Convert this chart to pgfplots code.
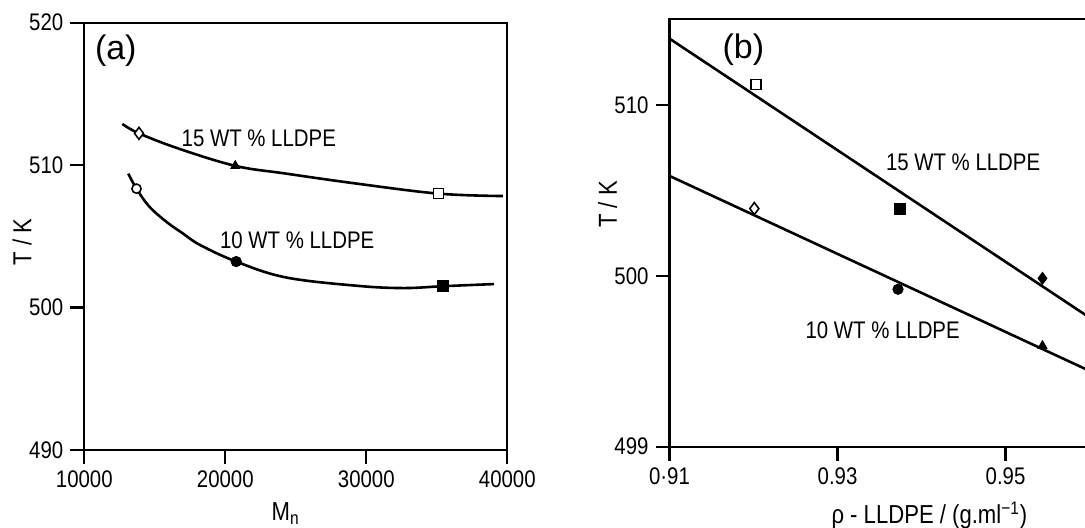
\documentclass[border=0pt]{standalone}
\usepackage{fontspec}
\setmainfont{Liberation Sans}[FakeStretch=0.85]
\newfontfamily\arialfont{Liberation Sans}
\usepackage{pgfplots}
\pgfplotsset{compat=1.18}
\begin{document}
\begin{tikzpicture}
\pgfplotsset{
  every axis/.append style={
    scale only axis, anchor=south west,
    axis line style={line width=1.1pt},
    major tick length=7pt, tick align=outside,
    xtick pos=left, ytick pos=left,
    scaled x ticks=false, scaled y ticks=false,
    every tick/.style={black, line width=1.1pt},
    tick label style={font=\fontsize{12}{14}\selectfont},
    clip=false,
  },
}
% ---------------- panel (a) ----------------
\begin{axis}[at={(42.15pt,38.5pt)}, width=211.5pt, height=213.65pt,
  xmin=10000, xmax=40000, ymin=490, ymax=520,
  xtick={10000,20000,30000,40000}, xticklabels={10000,20000,30000,40000},
  ytick={490,500,510,520}, yticklabels={490,500,510,520}]
\addplot[line width=1.3pt, smooth, tension=0.6] coordinates {
  (12695,512.89) (13879,512.23) (16667,511.17) (20709,509.95)
  (24276,509.41) (29347,508.70) (35127,508.00) (39694,507.83)};
\addplot[line width=1.3pt, smooth, tension=0.6] coordinates {
  (13120,509.4) (13702,508.35) (14600,507.1) (15850,506.0) (17000,505.2)
  (18200,504.4) (20773,503.23) (24276,502.12) (29347,501.53) (32645,501.37)
  (35432,501.5) (39056,501.65)};
\addplot[only marks, mark=diamond*, mark options={fill=white, draw=black, line width=0.8pt}, mark size=3pt] coordinates {(13879,512.23)};
\addplot[only marks, mark=triangle*, mark size=2.6pt] coordinates {(20709,509.95)};
\addplot[only marks, mark=square*, mark options={fill=white, draw=black, line width=0.8pt}, mark size=2.5pt] coordinates {(35127,508.00)};
\addplot[only marks, mark=*, mark options={fill=white, draw=black, line width=0.8pt}, mark size=2.3pt] coordinates {(13702,508.35)};
\addplot[only marks, mark=*, mark size=2.6pt] coordinates {(20773,503.23)};
\addplot[only marks, mark=square*, mark size=2.7pt] coordinates {(35432,501.5)};
\node[font=\fontsize{12}{14}\selectfont] at (axis cs:22375,511.88) {15 WT \% LLDPE};
\node[font=\fontsize{12}{14}\selectfont] at (axis cs:25099,504.71) {10 WT \% LLDPE};
\node[font=\arialfont\fontsize{17}{20}\selectfont] at (axis cs:12234,518.0) {(a)};
\node[rotate=90, font=\fontsize{13}{15}\selectfont] at (rel axis cs:-0.147,0.487) {T / K};
\node[font=\fontsize{13}{15}\selectfont] at (rel axis cs:0.476,-0.149) {M\textsubscript{n}};
\end{axis}
% ---------------- panel (b) ----------------
\begin{axis}[at={(334.75pt,40.15pt)}, width=218.4pt, height=213.7pt,
  xmin=0.91, xmax=0.962, ymin=490, ymax=515,
  xtick={0.91,0.93,0.95}, xticklabels={0·91,0.93,0.95},
  ytick={490,500,510}, yticklabels={499,500,510}]
\addplot[line width=1.3pt] coordinates {(0.91,513.87) (0.962,496.90)};
\addplot[line width=1.3pt] coordinates {(0.91,505.84) (0.962,493.98)};
\addplot[only marks, mark=square*, mark options={fill=white, draw=black, line width=0.8pt}, mark size=2.5pt] coordinates {(0.9203,511.19)};
\addplot[only marks, mark=square*, mark size=2.7pt] coordinates {(0.9374,503.93)};
\addplot[only marks, mark=diamond*, mark size=3pt] coordinates {(0.9544,499.85)};
\addplot[only marks, mark=diamond*, mark options={fill=white, draw=black, line width=0.8pt}, mark size=3pt] coordinates {(0.9201,503.93)};
\addplot[only marks, mark=*, mark size=2.6pt] coordinates {(0.9372,499.21)};
\addplot[only marks, mark=triangle*, mark size=2.6pt] coordinates {(0.9544,495.90)};
\node[font=\fontsize{12}{14}\selectfont] at (axis cs:0.94495,506.62) {15 WT \% LLDPE};
\node[font=\fontsize{12}{14}\selectfont] at (axis cs:0.93537,496.79) {10 WT \% LLDPE};
\node[font=\arialfont\fontsize{17}{20}\selectfont] at (axis cs:0.91879,513.22) {(b)};
\node[rotate=90, font=\fontsize{13}{15}\selectfont] at (rel axis cs:-0.142,0.567) {T / K};
\node[font=\fontsize{13}{15}\selectfont] at (rel axis cs:0.595,-0.161) {ρ - LLDPE / (g.ml\textsuperscript{−1})};
\end{axis}
\pgfresetboundingbox
\path[use as bounding box] (0,0) rectangle (542.5pt,263.5pt);
\end{tikzpicture}
\end{document}
